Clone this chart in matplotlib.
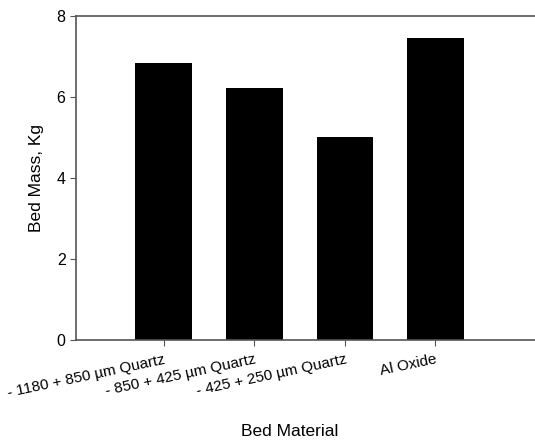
import matplotlib
matplotlib.use("Agg")
import matplotlib.pyplot as plt

plt.rcParams['font.family'] = ['Liberation Sans', 'DejaVu Sans']

materials = ["- 1180 + 850 \u00b5m Quartz", "- 850 + 425 \u00b5m Quartz",
             "- 425 + 250 \u00b5m Quartz", "Al Oxide"]
bed_mass = [6.85, 6.22, 5.01, 7.46]

fig = plt.figure(figsize=(5.35, 4.41), dpi=100)
ax = fig.add_axes([0.142, 0.229, 0.858, 0.734])

x = range(len(materials))
ax.bar(x, bed_mass, width=0.625, color="black")

ax.set_xlim(-0.97, 4.1)
ax.set_ylim(0, 8)
ax.set_yticks([0, 2, 4, 6, 8])
ax.set_xticks(list(x))
ax.set_xticklabels(materials, rotation=12, ha="right", rotation_mode="anchor", fontsize=11)
ax.tick_params(axis="y", labelsize=11.5, direction="out", length=4, color="#555555")
ax.tick_params(axis="x", direction="out", length=4, pad=5, color="#555555")

for s in ["left", "bottom", "top"]:
    ax.spines[s].set_color("#555555")
    ax.spines[s].set_linewidth(1.2)
ax.spines["right"].set_visible(False)

ax.set_ylabel("Bed Mass, Kg", fontsize=12.5)
ax.yaxis.set_label_coords(-0.07, 0.5)
ax.set_xlabel("Bed Material", fontsize=12.5)
ax.xaxis.set_label_coords(0.466, -0.26)

fig.savefig("out.png", dpi=100)
